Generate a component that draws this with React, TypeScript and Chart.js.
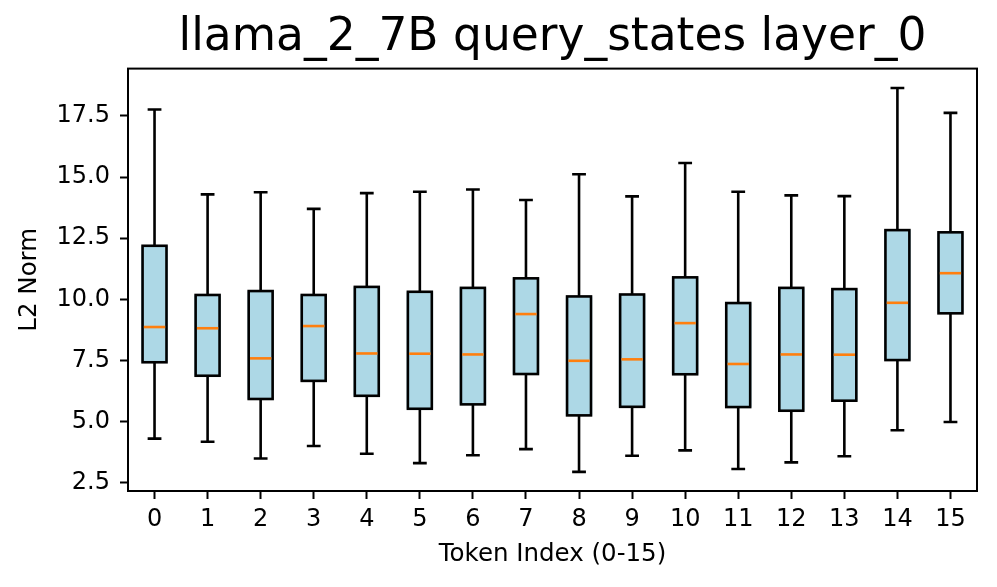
import React, { useEffect, useRef } from "react";
import { Chart, registerables } from "chart.js";

Chart.register(...registerables);

const TITLE = "llama_2_7B query_states layer_0";
const X_LABEL = "Token Index (0-15)";
const Y_LABEL = "L2 Norm";

const categories = ["0", "1", "2", "3", "4", "5", "6", "7", "8", "9", "10", "11", "12", "13", "14", "15"];
const whiskerHigh = [17.76, 14.29, 14.38, 13.70, 14.34, 14.40, 14.49, 14.06, 15.11, 14.21, 15.57, 14.40, 14.25, 14.22, 18.64, 17.62];
const q3 = [12.19, 10.18, 10.34, 10.18, 10.51, 10.31, 10.47, 10.86, 10.12, 10.20, 10.90, 9.85, 10.47, 10.42, 12.83, 12.74];
const median = [8.87, 8.82, 7.59, 8.91, 7.79, 7.78, 7.75, 9.40, 7.49, 7.55, 9.03, 7.36, 7.75, 7.74, 9.86, 11.07];
const q1 = [7.43, 6.88, 5.93, 6.67, 6.06, 5.53, 5.71, 6.95, 5.26, 5.61, 6.94, 5.60, 5.45, 5.86, 7.52, 9.43];
const whiskerLow = [4.31, 4.18, 3.50, 4.01, 3.69, 3.31, 3.63, 3.88, 2.95, 3.61, 3.83, 3.07, 3.34, 3.59, 4.65, 4.99];
const yTicks = [2.5, 5.0, 7.5, 10.0, 12.5, 15.0, 17.5];
const yMin = 2.17;
const yMax = 19.43;

const FONT = "'DejaVu Sans', 'Liberation Sans', sans-serif";

const boxPlugin = {
  id: "boxParts",
  afterDatasetsDraw(chart: any) {
    const { ctx, chartArea } = chart;
    const xs = chart.scales.x;
    const ys = chart.scales.y;
    const meta = chart.getDatasetMeta(0);
    const spacing = xs.getPixelForValue(1) - xs.getPixelForValue(0);
    const capHalf = spacing * 0.13;
    const lw = 2.6;
    ctx.save();
    ctx.lineCap = "butt";
    ctx.lineJoin = "miter";
    for (let i = 0; i < categories.length; i++) {
      const x = xs.getPixelForValue(i);
      const el = meta.data[i];
      const half = el.width / 2;
      const yHi = ys.getPixelForValue(whiskerHigh[i]);
      const yLo = ys.getPixelForValue(whiskerLow[i]);
      const y3 = ys.getPixelForValue(q3[i]);
      const y1 = ys.getPixelForValue(q1[i]);
      ctx.strokeStyle = "#000000";
      ctx.lineWidth = lw;
      ctx.beginPath();
      ctx.moveTo(x, y3);
      ctx.lineTo(x, yHi);
      ctx.moveTo(x, y1);
      ctx.lineTo(x, yLo);
      ctx.moveTo(x - capHalf, yHi);
      ctx.lineTo(x + capHalf, yHi);
      ctx.moveTo(x - capHalf, yLo);
      ctx.lineTo(x + capHalf, yLo);
      ctx.stroke();
      ctx.strokeRect(x - half + lw / 2, y3, 2 * half - lw, y1 - y3);
      ctx.strokeStyle = "#FF7F0E";
      ctx.beginPath();
      const my = ys.getPixelForValue(median[i]);
      ctx.moveTo(x - half + lw, my);
      ctx.lineTo(x + half - lw, my);
      ctx.stroke();
    }
    ctx.strokeStyle = "#000000";
    ctx.lineWidth = 2;
    ctx.strokeRect(chartArea.left, chartArea.top, chartArea.right - chartArea.left, chartArea.bottom - chartArea.top);
    ctx.restore();
  },
};

export default function App() {
  const ref = useRef<HTMLCanvasElement | null>(null);
  useEffect(() => {
    if (!ref.current) return;
    const chart = new Chart(ref.current, {
      type: "bar",
      data: {
        labels: categories,
        datasets: [
          {
            data: categories.map((_, i) => [q1[i], q3[i]]) as any,
            backgroundColor: "#ADD8E6",
            borderWidth: 0,
            barPercentage: 0.5,
            categoryPercentage: 1.0,
          },
        ],
      },
      options: {
        animation: false,
        responsive: false,
        devicePixelRatio: 1,
        layout: { padding: { left: 0, right: 20, top: 0, bottom: 0 } },
        plugins: {
          legend: { display: false },
          tooltip: { enabled: false },
          title: {
            display: true,
            text: TITLE,
            fullSize: false,
            color: "#000000",
            font: { family: FONT, size: 45.5, weight: "normal" },
            padding: { top: 11, bottom: 3 },
          },
        },
        scales: {
          x: {
            type: "category",
            offset: true,
            grid: {
              display: true,
              drawOnChartArea: false,
              drawTicks: true,
              tickLength: 8,
              tickColor: "#000000",
              tickWidth: 2,
              offset: false,
            },
            border: { display: false },
            ticks: {
              color: "#000000",
              font: { family: FONT, size: 24 },
              padding: 6,
              maxRotation: 0,
              autoSkip: false,
            },
            title: {
              display: true,
              text: X_LABEL,
              color: "#000000",
              font: { family: FONT, size: 24.5 },
              padding: { top: 0, bottom: 17.5 },
            },
            afterFit(scale: any) {
              scale.height = 96;
            },
          },
          y: {
            type: "linear",
            min: yMin,
            max: yMax,
            grid: {
              display: true,
              drawOnChartArea: false,
              drawTicks: true,
              tickLength: 8,
              tickColor: "#000000",
              tickWidth: 2,
            },
            border: { display: false },
            ticks: {
              color: "#000000",
              font: { family: FONT, size: 24 },
              padding: 10,
              callback: (v: any) => Number(v).toFixed(1),
            },
            afterBuildTicks(scale: any) {
              scale.ticks = yTicks.map((v) => ({ value: v }));
            },
            title: {
              display: true,
              text: Y_LABEL,
              color: "#000000",
              font: { family: FONT, size: 24.5 },
              padding: { top: 15, bottom: 0 },
            },
            afterFit(scale: any) {
              scale.width = 128;
            },
          },
        },
      },
      plugins: [boxPlugin],
    });
    return () => chart.destroy();
  }, []);
  return (
    <div style={{ position: "absolute", left: 0, top: 0, width: 997, height: 587, background: "#ffffff" }}>
      <canvas ref={ref} width={997} height={587} style={{ width: 997, height: 587, display: "block" }} />
    </div>
  );
}
